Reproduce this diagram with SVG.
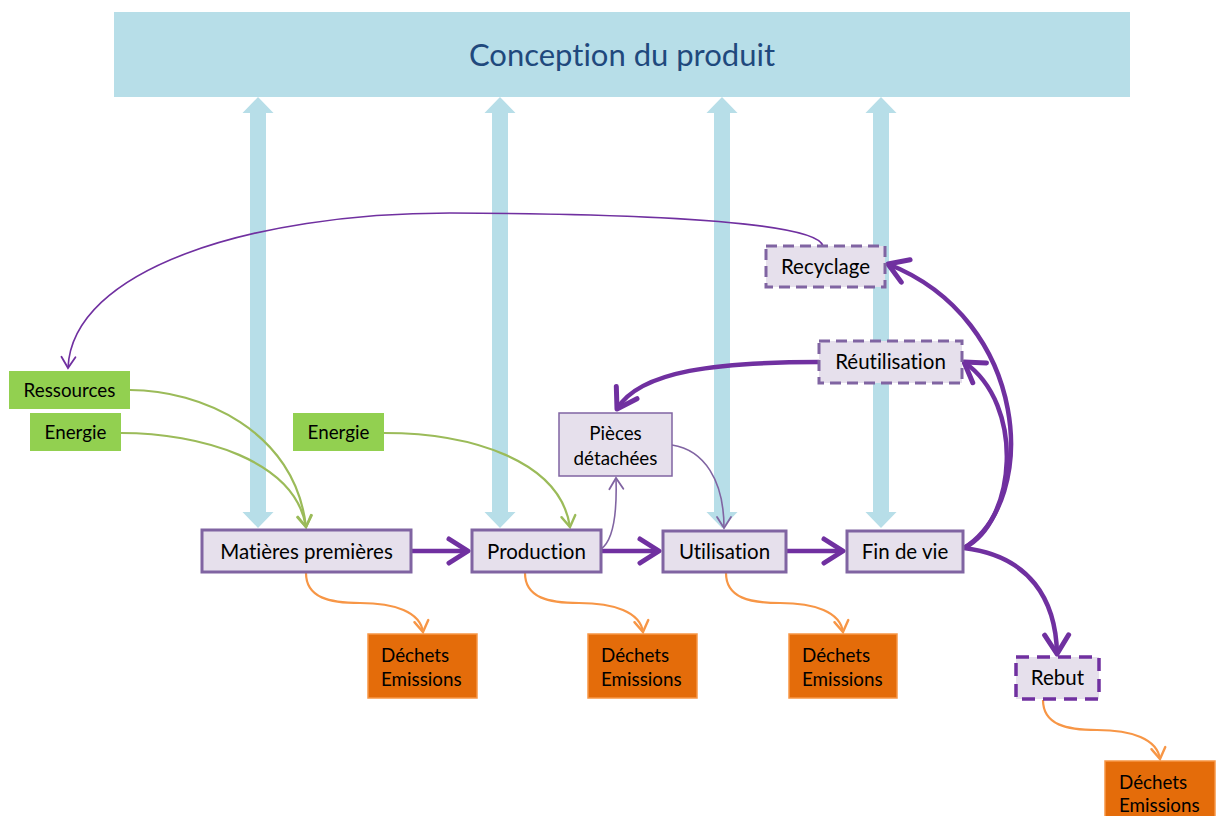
<svg xmlns="http://www.w3.org/2000/svg" width="1217" height="816" viewBox="0 0 1217 816">
<style>
text{font-family:Lato,"Open Sans","Liberation Sans",sans-serif;fill:#000;font-variant-ligatures:none;font-feature-settings:"liga" 0}
.box{fill:#E6E0EC;stroke:#8064A2;stroke-width:3}
.thin{fill:#E6E0EC;stroke:#8064A2;stroke-width:1.5}
.dash{fill:#E6E0EC;stroke:#8064A2;stroke-width:3;stroke-dasharray:11 6}
.dash2{fill:#E6E0EC;stroke:#7030A0;stroke-width:3.5;stroke-dasharray:13 8}
.green{fill:#92D050}
.orange{fill:#E46C0A;stroke:#F79646;stroke-width:1.5}
.blue{fill:#B7DEE8}
.t{font-size:20.5px;text-anchor:middle}
.s{font-size:18.8px}
.big{fill:none;stroke:#7030A0;stroke-width:4.5;marker-end:url(#mBig)}
.pth{fill:none;stroke:#7030A0;stroke-width:1.6;marker-end:url(#mPur)}
.lth{fill:none;stroke:#8064A2;stroke-width:1.6;marker-end:url(#mLav)}
.og{fill:none;stroke:#F79646;stroke-width:2.2;marker-end:url(#mOr)}
.gr{fill:none;stroke:#9BBB59;stroke-width:2.2;marker-end:url(#mGr)}
</style>
<defs>
<marker id="mBig" markerUnits="userSpaceOnUse" viewBox="-22 -14 26 28" refX="0" refY="0" markerWidth="26" markerHeight="28" orient="auto" overflow="visible"><path d="M-19,-12 L0,0 L-19,12" fill="none" stroke="#7030A0" stroke-width="5" stroke-linecap="round" stroke-linejoin="round"/></marker>
<marker id="mPur" markerUnits="userSpaceOnUse" viewBox="-12 -8 14 16" refX="0" refY="0" markerWidth="14" markerHeight="16" orient="auto" overflow="visible"><path d="M-11,-7 L0,0 L-11,7" fill="none" stroke="#7030A0" stroke-width="1.8" stroke-linecap="round"/></marker>
<marker id="mLav" markerUnits="userSpaceOnUse" viewBox="-12 -8 14 16" refX="0" refY="0" markerWidth="14" markerHeight="16" orient="auto" overflow="visible"><path d="M-11,-7 L0,0 L-11,7" fill="none" stroke="#8064A2" stroke-width="1.8" stroke-linecap="round"/></marker>
<marker id="mOr" markerUnits="userSpaceOnUse" viewBox="-12 -8 14 16" refX="0" refY="0" markerWidth="14" markerHeight="16" orient="auto" overflow="visible"><path d="M-11,-7 L0,0 L-11,7" fill="none" stroke="#F79646" stroke-width="2.4" stroke-linecap="round"/></marker>
<marker id="mGr" markerUnits="userSpaceOnUse" viewBox="-12 -8 14 16" refX="0" refY="0" markerWidth="14" markerHeight="16" orient="auto" overflow="visible"><path d="M-11,-7 L0,0 L-11,7" fill="none" stroke="#9BBB59" stroke-width="2.4" stroke-linecap="round"/></marker>
</defs>

<g id="conception">
<rect class="blue" x="114" y="12" width="1016" height="85"/>
<text x="622" y="66" style="font-size:31px;text-anchor:middle;fill:#1F497D">Conception du produit</text>
</g>

<g id="blue-arrows">
<polygon class="blue" points="258,97 273.5,113 266,113 266,512 273.5,512 258,528 242.5,512 250,512 250,113 242.5,113"/>
<polygon class="blue" points="500,97 515.5,113 508,113 508,512 515.5,512 500,528 484.5,512 492,512 492,113 484.5,113"/>
<polygon class="blue" points="722,97 737.5,113 730,113 730,512 737.5,512 722,528 706.5,512 714,512 714,113 706.5,113"/>
<polygon class="blue" points="881,97 896.5,113 889,113 889,512 896.5,512 881,528 865.5,512 873,512 873,113 865.5,113"/>
</g>

<g id="connectors">
<path class="pth" d="M823,246 C818,226 700,214 450,213 C250,213 72,270 68,368"/>
<path class="gr" d="M130,390 C200,390 295,430 306,527"/>
<path class="gr" d="M121,433 C200,433 295,460 306,527"/>
<path class="gr" d="M384,433 C470,433 560,460 570,527"/>
<path class="big" d="M411,551 L468,551"/>
<path class="big" d="M601,551 L659,551"/>
<path class="big" d="M786,551 L843,551"/>
<path class="lth" d="M601,549 C614,540 617,510 616,478"/>
<path class="lth" d="M672,445 C704,450 724,480 724,528"/>
<path class="big" d="M819,362 C720,362 640,370 617,409"/>
<path class="big" d="M964,548 C1040,500 1030,320 888,264"/>
<path class="big" d="M964,548 C1016,522 1026,405 964,362"/>
<path class="big" d="M964,548 C1030,556 1056,600 1057,654"/>
<path class="og" d="M306,573 C306,598 330,603 360,603 C395,603 420,612 423,632"/>
<path class="og" d="M525,573 C525,598 549,603 579,603 C614,603 640,612 643,632"/>
<path class="og" d="M726,573 C726,598 750,603 780,603 C815,603 840,612 843,632"/>
<path class="og" d="M1043,700 C1043,725 1067,730 1097,730 C1132,730 1157,739 1160,759"/>
</g>

<g id="ressources"><rect class="green" x="9" y="371" width="121" height="38"/><text class="s" x="69.5" y="397" text-anchor="middle">Ressources</text></g>
<g id="energie1"><rect class="green" x="30" y="413" width="91" height="38"/><text class="s" x="75.5" y="439" text-anchor="middle">Energie</text></g>
<g id="energie2"><rect class="green" x="293" y="413" width="91" height="38"/><text class="s" x="338.5" y="439" text-anchor="middle">Energie</text></g>

<g id="matieres"><rect class="box" x="202" y="530" width="209" height="42"/><text class="t" x="306.5" y="558.5">Matières premières</text></g>
<g id="production"><rect class="box" x="472" y="530" width="129" height="42"/><text class="t" x="536.5" y="558.5">Production</text></g>
<g id="utilisation"><rect class="box" x="663" y="531" width="123" height="41"/><text class="t" x="724.5" y="558.5">Utilisation</text></g>
<g id="findevie"><rect class="box" x="847" y="531" width="116" height="41"/><text class="t" x="905" y="558.5">Fin de vie</text></g>
<g id="pieces"><rect class="thin" x="559" y="413" width="113" height="63"/><text class="s" x="615.5" y="440" text-anchor="middle">Pièces</text><text class="s" x="615.5" y="465" text-anchor="middle">détachées</text></g>
<g id="recyclage"><rect class="dash" x="766" y="246" width="119" height="41"/><text class="t" x="825.5" y="273.5">Recyclage</text></g>
<g id="reutilisation"><rect class="dash" x="819" y="341" width="143" height="42"/><text class="t" x="890.5" y="369">Réutilisation</text></g>
<g id="rebut"><rect class="dash2" x="1016" y="657" width="83" height="42"/><text class="t" x="1057.5" y="685">Rebut</text></g>

<g id="dechets1"><rect class="orange" x="368" y="634" width="109" height="64"/><text class="s" x="381" y="662">Déchets</text><text class="s" x="381" y="686">Emissions</text></g>
<g id="dechets2"><rect class="orange" x="588" y="634" width="109" height="64"/><text class="s" x="601" y="662">Déchets</text><text class="s" x="601" y="686">Emissions</text></g>
<g id="dechets3"><rect class="orange" x="789" y="634" width="108" height="64"/><text class="s" x="802" y="662">Déchets</text><text class="s" x="802" y="686">Emissions</text></g>
<g id="dechets4"><rect class="orange" x="1105" y="761" width="110" height="64"/><text class="s" x="1119" y="789">Déchets</text><text class="s" x="1119" y="812">Emissions</text></g>
</svg>
